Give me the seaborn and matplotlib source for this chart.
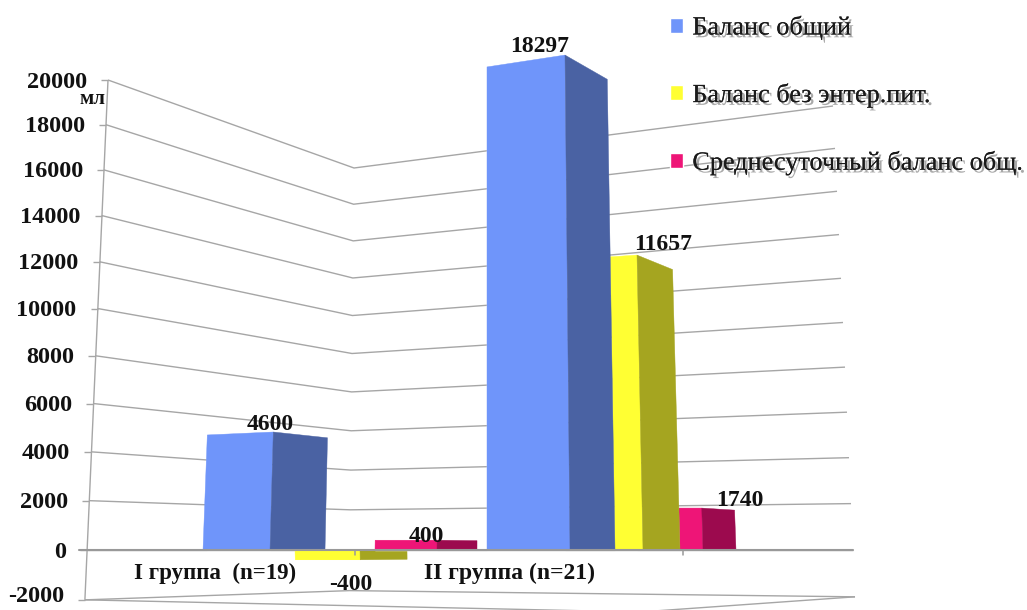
import matplotlib
matplotlib.use("Agg")
import matplotlib.pyplot as plt
import matplotlib.patheffects as pe
import numpy as np
import pandas as pd
import seaborn as sns

# Values
groups = ["I группа  (n=19)", "II группа (n=21)"]
series = ["Баланс общий", "Баланс без энтер.пит.", "Среднесуточный баланс общ."]
balance_total = [4600, 18297]
balance_no_enteral = [-400, 11657]
balance_daily = [400, 1740]
axis_ticks = [20000, 18000, 16000, 14000, 12000, 10000, 8000, 6000, 4000, 2000, 0, -2000]

# Colours of the front and side faces
front_colors = ["#6F95FA", "#FFFF33", "#EE1577"]
side_colors = ["#4A62A3", "#A5A520", "#9C0A4E"]
grid_color = "#A6A6A6"

# Perspective layout, in figure pixels
W, H = 1027, 610
BASE_PX = 550.0
UNIT = 0.0245            # pixels per unit of value on the data axis
VANISH_X = 487.0
CONVERGE = 3.3e-6
bar_left = [[203, 487], [295, 615], [375, 680]]
bar_corner = [[270, 570], [360, 643], [437, 703]]
bar_right = [[325, 615], [407, 680], [477, 736]]
near_gain = [[0.02565, 0.02705], [0.0245, 0.0253], [0.0245, 0.0241]]
left_ratio = [[0.975, 0.976], [1.0, 0.994], [1.0, 1.0]]
right_ratio = 0.951
bar_layer = [[3.0, 3.4], [3.1, 3.2], [3.2, 3.1]]


def to_data(px):
    return (BASE_PX - px) / UNIT


def plane_height(v, a, b):
    """Pixel height above the base line of value v on a receding wall."""
    return v * (a - b * v)


def wall_left(v):
    return 87 + v * 21 / 20000, plane_height(v, 0.0248, 6.5e-8)


def wall_mid(v):
    return 350 + v * 4 / 20000, plane_height(v, 0.0202, 5.5e-8)


def wall_right(v):
    return 853 - v * 20 / 20000, plane_height(v, 0.0233, 5.5e-8)


sns.set_theme(style="white")
plt.rcParams["font.family"] = ["Liberation Serif", "DejaVu Serif"]

frame = pd.DataFrame({
    "group": groups * 3,
    "series": np.repeat(series, 2),
    "value": balance_total + balance_no_enteral + balance_daily,
})

fig = plt.figure(figsize=(W / 100, H / 100), dpi=100, facecolor="white")
ax = fig.add_axes([0, 0, 1, 1])
sns.barplot(data=frame, x="group", y="value", hue="series", hue_order=series,
            palette=front_colors, errorbar=None, saturation=1, ax=ax)
ax.set_xlim(0, W)
ax.set_ylim(to_data(H), to_data(0))

# Reshape every bar into a perspective box built from its value
for s, container in enumerate(ax.containers):
    for g, rect in enumerate(container):
        v = rect.get_height()
        z = bar_layer[s][g]
        gain = near_gain[s][g] / UNIT
        xl, xc, xr = bar_left[s][g], bar_corner[s][g], bar_right[s][g]
        top = lambda x: x - (x - VANISH_X) * abs(v) * CONVERGE
        yl = v * gain * left_ratio[s][g]
        yc = v * gain
        yr = v * gain * right_ratio
        rect.set_x(max(xl, top(xl)))
        rect.set_width(min(xc, top(xc)) - max(xl, top(xl)))
        rect.set_height(yl)
        rect.set_zorder(z)
        ax.fill([xl, xc, top(xc), top(xl)], [0, 0, yc, yl],
                color=front_colors[s], lw=0.3, zorder=z)
        ax.fill([xc, xr, top(xr), top(xc)], [0, 0, yr, yc],
                color=side_colors[s], lw=0.3, zorder=z)

# Receding walls and floor
line_kw = dict(color=grid_color, lw=1.0, zorder=1, solid_capstyle="butt")
for v in axis_ticks:
    lx, lh = wall_left(v)
    mx, mh = wall_mid(v)
    rx, rh = wall_right(v)
    ax.plot([lx, mx, rx], [lh / UNIT, mh / UNIT, rh / UNIT], **line_kw)
    ax.plot([lx - 7, lx], [lh / UNIT, lh / UNIT], **line_kw)
    # The lowest label sits close to the figure edge, so it is lifted slightly
    lift = 3 if v == axis_ticks[-1] else -2
    ax.text(lx - 21, (lh + lift) / UNIT, f"{v}", ha="right", va="center",
            fontsize=17.5, fontweight="bold", color="#111111", zorder=6)

top_x, top_h = wall_left(axis_ticks[0])
low_x, low_h = wall_left(axis_ticks[-1])
ax.plot([top_x, low_x], [top_h / UNIT, low_h / UNIT], **line_kw)
ax.plot([79, wall_right(0)[0]], [0, 0], color="#999999", lw=1.5, zorder=4)
front_corner = (640, to_data(612))
ax.plot([low_x, front_corner[0]], [low_h / UNIT, front_corner[1]], **line_kw)
ax.plot([wall_right(-2000)[0], front_corner[0]],
        [wall_right(-2000)[1] / UNIT, front_corner[1]], **line_kw)
for tick_x in (355, 683):
    ax.plot([tick_x, tick_x], [0, to_data(555)], color="#999999", lw=1.1, zorder=5)

# Value and group labels
bold = dict(fontweight="bold", color="#111111", ha="center", va="center", zorder=6)
value_labels = [(270, 425, 4600), (351, 584, -400), (426, 536, 400),
                (540, 46, 18297), (663, 245, 11657), (740, 501, 1740)]
for x, py, v in value_labels:
    ax.text(x, to_data(py), f"{v}", fontsize=17, **bold)
ax.text(215, to_data(573), groups[0], fontsize=16.5, **bold)
ax.text(510, to_data(573), groups[1], fontsize=17, **bold)
ax.text(92, to_data(99), "мл", fontsize=15, **bold)

ax.set_xticks([])
ax.set_yticks([])
ax.set_xlabel("")
ax.set_ylabel("")
for spine in ax.spines.values():
    spine.set_visible(False)

# Legend with shadowed entries
handles, labels = ax.get_legend_handles_labels()
legend = ax.legend(handles, labels, loc="upper left", bbox_to_anchor=(670 / W, 1 - 16 / H),
                   frameon=False, fontsize=18.9, handlelength=0.5, handleheight=0.5,
                   handletextpad=0.35, labelspacing=1.68, borderpad=0, borderaxespad=0)
legend.set_zorder(7)
for text in legend.get_texts():
    text.set_color("#1a1a1a")
    text.set_path_effects([
        pe.withSimplePatchShadow(offset=(2, -2), shadow_rgbFace="#555555", alpha=0.5),
        pe.Normal(),
    ])

fig.savefig("out.png", dpi=100)
